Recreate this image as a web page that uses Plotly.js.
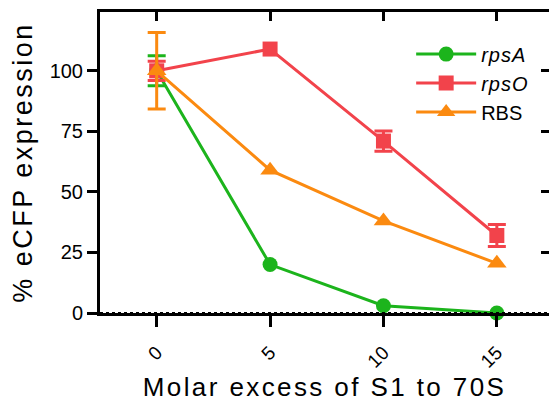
<!DOCTYPE html>
<html>
<head>
<meta charset="utf-8">
<script src="https://cdn.plot.ly/plotly-3.0.1.min.js"></script>
<style>html,body{margin:0;padding:0;background:#fff;}#chart{width:549px;height:402px;}</style>
</head>
<body>
<div id="chart"></div>
<script>
var molarExcess = [0, 5, 10, 15];
var tickLabels = ['0', '5', '10', '15'];
var rpsA = [100, 20, 3, 0];
var rpsAErr = [6.2, NaN, NaN, NaN];
var rpsO = [100, 109, 71, 32];
var rpsOErr = [4, NaN, 4.2, 4.5];
var rbs = [100, 59, 38, 20.5];
var rbsErr = [15.8, NaN, NaN, NaN];
var yTicks = [0, 25, 50, 75, 100];

var FONT = 'Liberation Sans, Arial, sans-serif';

function series(name, group, y, err, color, symbol, size) {
  return {
    x: molarExcess, y: y, name: name, legendgroup: group, type: 'scatter', mode: 'lines+markers',
    line: {color: color, width: 3},
    marker: {color: color, symbol: symbol, size: size},
    error_y: {type: 'data', array: err, visible: true, color: color, thickness: 3, width: 9},
    cliponaxis: false
  };
}

var traces = [
  series('<span style="letter-spacing:1px"><i>rpsA</i></span>', 'a', rpsA, rpsAErr, '#1cb41c', 'circle', 15),
  series('<span style="letter-spacing:1px"><i>rpsO</i></span>', 'o', rpsO, rpsOErr, '#f2434b', 'square', 15),
  series('RBS', 'r', rbs, rbsErr, '#fb8a10', 'triangle-up', 17),
  {x: [], y: [], xaxis: 'x2', yaxis: 'y2', showlegend: false, hoverinfo: 'skip', type: 'scatter'}
];

var layout = {
  width: 549, height: 402,
  margin: {l: 100, r: 0, t: 12, b: 89},
  paper_bgcolor: '#fff', plot_bgcolor: '#fff',
  font: {family: FONT, color: '#000'},
  showlegend: true,
  legend: {x: 0.693, y: 0.925, xanchor: 'left', yanchor: 'top', font: {size: 20, family: FONT},
           bgcolor: 'rgba(0,0,0,0)', traceorder: 'grouped', tracegroupgap: 0, itemwidth: 60},
  xaxis: {
    range: [-2.5, 17.3], showgrid: false, zeroline: false,
    showline: true, linecolor: '#000', linewidth: 3,
    ticks: 'outside', ticklen: 11, tickwidth: 3, tickcolor: '#000',
    tickvals: molarExcess, ticktext: tickLabels, tickangle: -45,
    ticklabelshift: 0, ticklabelstandoff: 7,
    tickfont: {size: 19, family: FONT},
    title: {text: '<span style="letter-spacing:2.4px">Molar excess of S1 to 70S</span>', font: {size: 26, family: FONT}}
  },
  yaxis: {
    range: [0, 124.3], showgrid: false, zeroline: false,
    showline: true, linecolor: '#000', linewidth: 3,
    ticks: 'outside', ticklen: 10, tickwidth: 3, tickcolor: '#000',
    tickvals: yTicks, ticktext: yTicks.map(String),
    tickfont: {size: 20, family: FONT},
    title: {text: '<span style="letter-spacing:2.5px">% eCFP expression</span>', font: {size: 27, family: FONT}, standoff: 10}
  },
  xaxis2: {
    overlaying: 'x', side: 'top', anchor: 'y', range: [-2.5, 17.3],
    showgrid: false, zeroline: false, showline: true, linecolor: '#000', linewidth: 3,
    ticks: 'inside', ticklen: 9, tickwidth: 3, tickcolor: '#000',
    tickvals: molarExcess, showticklabels: false
  },
  yaxis2: {
    overlaying: 'y', side: 'right', anchor: 'x', range: [0, 124.3],
    showgrid: false, zeroline: false, showline: false,
    ticks: 'inside', ticklen: 8, tickwidth: 3, tickcolor: '#000',
    tickvals: yTicks, showticklabels: false
  },
  shapes: [{type: 'line', xref: 'paper', x0: 0, x1: 1, yref: 'y', y0: 0, y1: 0,
            line: {color: '#000', width: 2, dash: 'dot'}, layer: 'above'}]
};

Plotly.newPlot('chart', traces, layout, {displayModeBar: false, staticPlot: true});
</script>
</body>
</html>
